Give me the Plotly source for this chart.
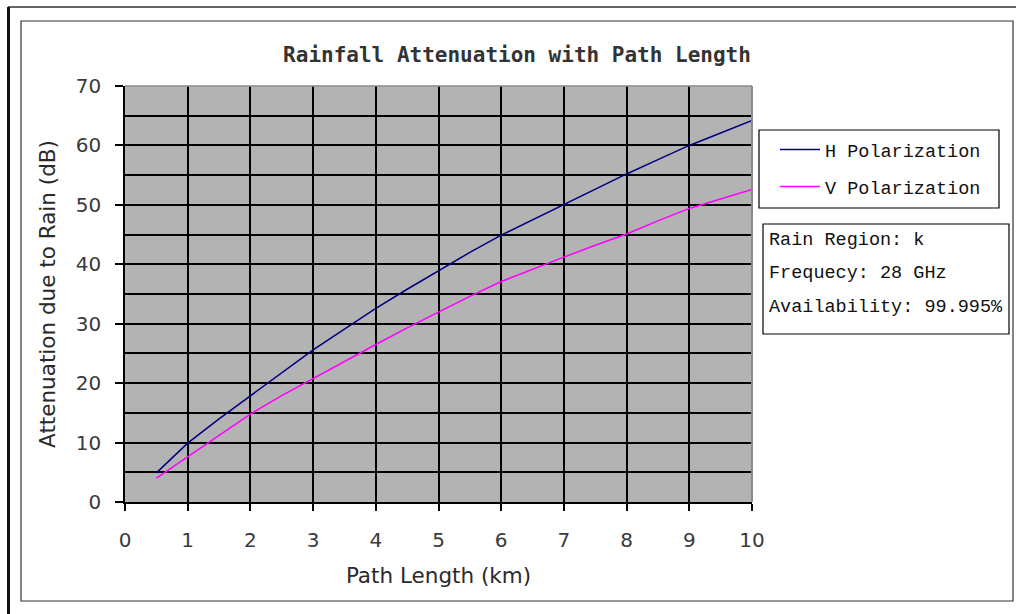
import plotly.graph_objects as go

# Path length (km) and rain attenuation (dB) for each polarization
path_km = [0.5, 1.0, 1.5, 2.0, 2.5, 3.0, 3.5, 4.0, 4.5, 5.0,
           5.5, 6.0, 6.5, 7.0, 7.5, 8.0, 8.5, 9.0, 9.5, 10.0]
h_pol_db = [4.9, 9.9, 14.0, 17.9, 21.8, 25.6, 29.1, 32.6, 35.8, 38.9,
            42.0, 44.9, 47.5, 50.0, 52.7, 55.2, 57.6, 60.0, 62.1, 64.2]
v_pol_db = [4.0, 7.6, 11.3, 14.8, 17.9, 20.8, 23.7, 26.5, 29.3, 32.0,
            34.6, 37.1, 39.2, 41.2, 43.2, 45.1, 47.3, 49.4, 51.0, 52.6]

series_names = ["H Polarization", "V Polarization"]
series_colors = ["#000080", "#ff00ff"]
info_lines = ["Rain Region: k", "Frequecy: 28 GHz", "Availability: 99.995%"]

W, H = 1016, 614
L, R, T, B = 125, 264, 86, 112
pw, ph = W - L - R, H - T - B


def px(x):
    return (x - L) / pw


def py(y):
    return (H - B - y) / ph


fig = go.Figure()
legend_ids = ["legend", "legend2"]
for name, ys, col, lg in zip(series_names, [h_pol_db, v_pol_db], series_colors, legend_ids):
    fig.add_trace(go.Scatter(x=path_km, y=ys, mode="lines", name=name, legend=lg,
                             line=dict(color=col, width=1.5)))

tick_font = dict(family="DejaVu Sans", size=20, color="#3a3a3a")
title_font = dict(family="DejaVu Sans", size=21.5, color="#2a2a2a")
legend_font = dict(family="Liberation Mono", size=18.5, color="#111111")

legend_common = dict(xanchor="left", yanchor="middle", bgcolor="rgba(0,0,0,0)",
                     borderwidth=0, font=legend_font, itemwidth=40)

fig.update_layout(
    width=W, height=H,
    margin=dict(l=L, r=R, t=T, b=B),
    paper_bgcolor="white",
    plot_bgcolor="#b3b3b3",
    title=dict(text="Rainfall Attenuation with Path Length",
               x=517 / W, xref="container", xanchor="center",
               y=1 - 55 / H, yref="container", yanchor="middle",
               font=dict(family="DejaVu Sans Mono", size=21, weight="bold",
                         color="#333333")),
    xaxis=dict(range=[0, 10], dtick=1, tick0=0,
               showgrid=True, gridcolor="black", gridwidth=1.5,
               showline=True, linecolor="black", linewidth=1.5,
               ticks="outside", ticklen=7, tickwidth=1.5, tickcolor="black",
               ticklabelstandoff=12,
               tickfont=tick_font, zeroline=False,
               title=dict(text="Path Length (km)", font=title_font, standoff=17)),
    yaxis=dict(range=[0, 70], dtick=10, tick0=0,
               showgrid=True, gridcolor="black", gridwidth=1.5,
               minor=dict(dtick=5, showgrid=True, gridcolor="black", gridwidth=1.5),
               showline=True, linecolor="black", linewidth=1.5,
               ticks="outside", ticklen=8, tickwidth=1.5, tickcolor="black",
               ticklabelstandoff=10,
               tickfont=tick_font, zeroline=False,
               title=dict(text="Attenuation due to Rain (dB)", font=title_font, standoff=14)),
    showlegend=True,
    legend=dict(x=px(775), y=py(150), **legend_common),
    legend2=dict(x=px(775), y=py(187), **legend_common),
)

shapes = [
    # plot area top/right edge
    dict(type="line", xref="paper", yref="paper", x0=0, x1=1, y0=1, y1=1,
         line=dict(color="#8a8a8a", width=1.5)),
    dict(type="line", xref="paper", yref="paper", x0=1, x1=1, y0=0, y1=1,
         line=dict(color="#8a8a8a", width=2)),
    # legend box
    dict(type="rect", xref="paper", yref="paper",
         x0=px(759), x1=px(999), y0=py(208), y1=py(130),
         line=dict(color="black", width=1.2)),
    # info box
    dict(type="rect", xref="paper", yref="paper",
         x0=px(763), x1=px(1009), y0=py(334), y1=py(224),
         line=dict(color="black", width=1.2)),
    # chart frame
    dict(type="rect", xref="paper", yref="paper",
         x0=px(21), x1=px(1013), y0=py(601), y1=py(21),
         line=dict(color="#333333", width=1.2)),
    # outer frame
    dict(type="line", xref="paper", yref="paper", x0=px(8), x1=px(1030),
         y0=py(7), y1=py(7), line=dict(color="#333333", width=1.5)),
    dict(type="line", xref="paper", yref="paper", x0=px(8.5), x1=px(8.5),
         y0=py(7), y1=py(620), line=dict(color="#111111", width=3)),
]
fig.update_layout(shapes=shapes)

for i, line in enumerate(info_lines):
    fig.add_annotation(text=line, xref="paper", yref="paper",
                       x=px(767), y=py(240 + 33.5 * i),
                       xanchor="left", yanchor="middle", showarrow=False,
                       font=dict(family="Liberation Mono", size=18.5, color="#111111"))

fig.write_html("out.html")
